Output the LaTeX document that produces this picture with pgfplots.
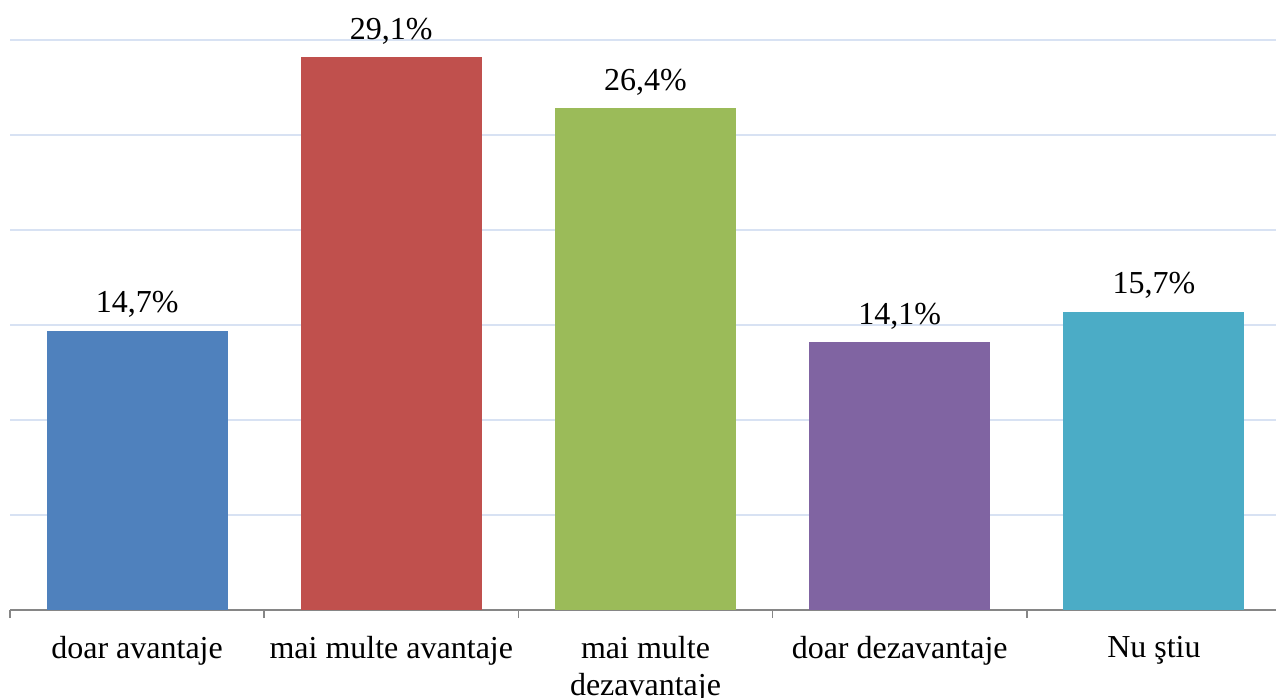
\documentclass[border=0pt]{standalone}
\usepackage{fontspec}
\setmainfont{Liberation Serif}
\usepackage{pgfplots}
\pgfplotsset{compat=1.18}
\definecolor{c1}{HTML}{4F81BD}
\definecolor{c2}{HTML}{C0504D}
\definecolor{c3}{HTML}{9BBB59}
\definecolor{c4}{HTML}{8064A2}
\definecolor{c5}{HTML}{4BACC6}
\definecolor{axisgray}{HTML}{868686}
\definecolor{gridc}{HTML}{D8E2F3}
\begin{document}
\begin{tikzpicture}
\begin{axis}[
 scale only axis, width=635.5pt, height=285pt,
 xmin=-0.5, xmax=4.5, ymin=0, ymax=30,
 ybar, bar width=0.712, bar shift=0pt,
 axis x line*=bottom, axis y line*=left,
 y axis line style={draw=none},
 x axis line style={draw=axisgray, line width=0.75pt, -},
 ytick={0,5,...,30}, yticklabels={},
 ymajorgrids, grid style={gridc, line width=1pt},
 major y tick style={draw=none},
 xtick={0,...,4},
 xticklabels={doar avantaje, mai multe avantaje, {mai multe\\dezavantaje}, doar dezavantaje, Nu ştiu},
 major x tick style={draw=none}, major tick length=0pt,
 minor xtick={-0.5,0.5,...,4.5}, minor x tick style={draw=axisgray, line width=0.75pt},
 minor tick length=4pt, tick align=outside,
 xticklabel style={anchor=north, inner sep=0pt, yshift=-13pt, align=center, font=\fontsize{16}{18.5}\selectfont},
 nodes near coords={\pgfmathprintnumber[fixed, fixed zerofill, precision=1, use comma, assume math mode=true]{\pgfplotspointmeta}\%},
 nodes near coords style={anchor=base, inner sep=0pt, yshift=9pt, font=\fontsize{16}{18.5}\selectfont, text=black},
 clip=false,
]
\addplot[fill=c1, draw=none] coordinates {(0,14.7)};
\addplot[fill=c2, draw=none] coordinates {(1,29.1)};
\addplot[fill=c3, draw=none] coordinates {(2,26.4)};
\addplot[fill=c4, draw=none] coordinates {(3,14.1)};
\addplot[fill=c5, draw=none] coordinates {(4,15.7)};
\coordinate (ll) at (rel axis cs:0,0);
\coordinate (ur) at (rel axis cs:1,1);
\end{axis}
\pgfresetboundingbox
\path[use as bounding box] ([xshift=-5pt, yshift=-43.5pt]ll) rectangle ([xshift=-2.5pt, yshift=20pt]ur);
\end{tikzpicture}
\end{document}
